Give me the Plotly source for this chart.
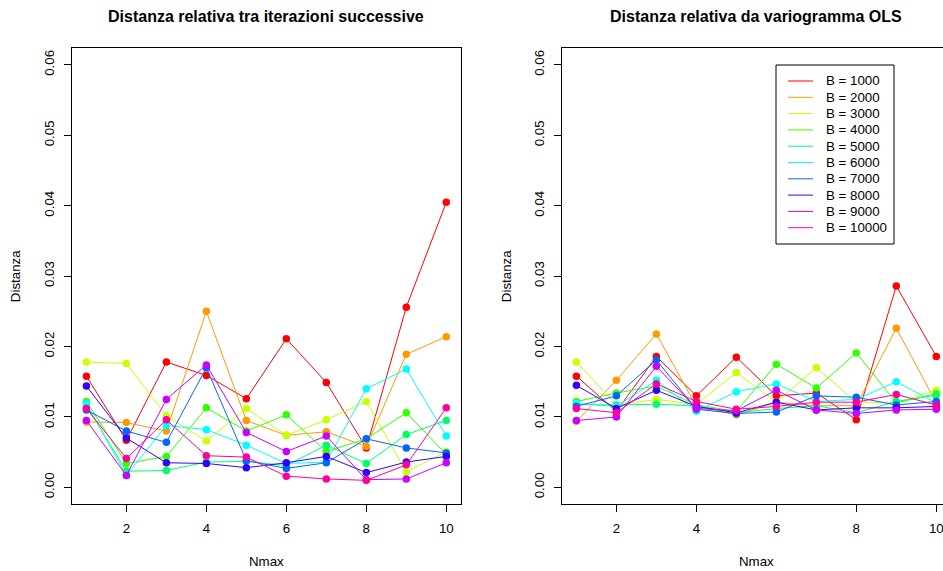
import plotly.graph_objects as go

# Nmax values on the x axis
nmax = [1, 2, 3, 4, 5, 6, 7, 8, 9, 10]

# bootstrap sizes and their colours (R rainbow(10))
b_labels = ["B = 1000", "B = 2000", "B = 3000", "B = 4000", "B = 5000",
            "B = 6000", "B = 7000", "B = 8000", "B = 9000", "B = 10000"]
colors = ["#FF0000", "#FF9900", "#CCFF00", "#33FF00", "#00FF66",
          "#00FFFF", "#0066FF", "#3300FF", "#CC00FF", "#FF0099"]

# relative distance between successive iterations, one list per B
succ_b1000 = [0.0158, 0.0067, 0.0178, 0.0159, 0.0126, 0.0211, 0.0149, 0.0056, 0.0256, 0.0405]
succ_b2000 = [0.0093, 0.0092, 0.0080, 0.0250, 0.0095, 0.0074, 0.0079, 0.0058, 0.0189, 0.0214]
succ_b3000 = [0.0178, 0.0176, 0.0102, 0.0066, 0.0112, 0.0074, 0.0096, 0.0122, 0.0022, 0.0051]
succ_b4000 = [0.0122, 0.0034, 0.0044, 0.0113, 0.0080, 0.0103, 0.0051, 0.0069, 0.0106, 0.0047]
succ_b5000 = [0.0116, 0.0023, 0.0024, 0.0036, 0.0037, 0.0031, 0.0060, 0.0034, 0.0075, 0.0095]
succ_b6000 = [0.0119, 0.0017, 0.0088, 0.0082, 0.0060, 0.0034, 0.0036, 0.0140, 0.0168, 0.0073]
succ_b7000 = [0.0110, 0.0080, 0.0064, 0.0170, 0.0038, 0.0027, 0.0035, 0.0069, 0.0056, 0.0049]
succ_b8000 = [0.0144, 0.0070, 0.0035, 0.0034, 0.0028, 0.0035, 0.0044, 0.0021, 0.0036, 0.0044]
succ_b9000 = [0.0095, 0.0017, 0.0125, 0.0174, 0.0078, 0.0051, 0.0073, 0.0011, 0.0012, 0.0035]
succ_b10000 = [0.0112, 0.0041, 0.0096, 0.0045, 0.0043, 0.0016, 0.0012, 0.0010, 0.0032, 0.0113]

# relative distance from the OLS variogram, one list per B
ols_b1000 = [0.0158, 0.0108, 0.0186, 0.0130, 0.0185, 0.0130, 0.0134, 0.0096, 0.0286, 0.0186]
ols_b2000 = [0.0094, 0.0152, 0.0218, 0.0115, 0.0103, 0.0121, 0.0116, 0.0116, 0.0226, 0.0120]
ols_b3000 = [0.0178, 0.0117, 0.0125, 0.0118, 0.0163, 0.0121, 0.0170, 0.0121, 0.0120, 0.0138]
ols_b4000 = [0.0122, 0.0134, 0.0144, 0.0117, 0.0108, 0.0175, 0.0141, 0.0191, 0.0120, 0.0133]
ols_b5000 = [0.0118, 0.0117, 0.0118, 0.0116, 0.0106, 0.0112, 0.0116, 0.0106, 0.0122, 0.0131]
ols_b6000 = [0.0119, 0.0115, 0.0152, 0.0108, 0.0136, 0.0147, 0.0122, 0.0125, 0.0150, 0.0120]
ols_b7000 = [0.0115, 0.0130, 0.0181, 0.0111, 0.0105, 0.0107, 0.0130, 0.0128, 0.0117, 0.0122]
ols_b8000 = [0.0145, 0.0112, 0.0138, 0.0115, 0.0106, 0.0121, 0.0110, 0.0113, 0.0113, 0.0115]
ols_b9000 = [0.0095, 0.0100, 0.0172, 0.0112, 0.0109, 0.0138, 0.0110, 0.0105, 0.0110, 0.0111]
ols_b10000 = [0.0112, 0.0106, 0.0147, 0.0122, 0.0111, 0.0115, 0.0121, 0.0121, 0.0132, 0.0117]

succ_series = [succ_b1000, succ_b2000, succ_b3000, succ_b4000, succ_b5000,
               succ_b6000, succ_b7000, succ_b8000, succ_b9000, succ_b10000]
ols_series = [ols_b1000, ols_b2000, ols_b3000, ols_b4000, ols_b5000,
              ols_b6000, ols_b7000, ols_b8000, ols_b9000, ols_b10000]

x_ticks = [2, 4, 6, 8, 10]
y_ticks = [0.00, 0.01, 0.02, 0.03, 0.04, 0.05, 0.06]
y_ticktext = ["0.00", "0.01", "0.02", "0.03", "0.04", "0.05", "0.06"]

titles = ["Distanza relativa tra iterazioni successive",
          "Distanza relativa da variogramma OLS"]

W, H = 943, 571
FONT = "Liberation Sans, Arial, Helvetica, sans-serif"
FS = 13.3       # base text size
FS_MAIN = 16    # panel title size


def px(x):
    return x / W


def py(y):
    return (H - y) / H


fig = go.Figure()

for i in range(len(b_labels)):
    fig.add_trace(go.Scatter(
        x=nmax, y=succ_series[i], mode="lines+markers", xaxis="x", yaxis="y",
        line=dict(color=colors[i], width=1), marker=dict(color=colors[i], size=7.5),
        name=b_labels[i], showlegend=False))
for i in range(len(b_labels)):
    fig.add_trace(go.Scatter(
        x=nmax, y=ols_series[i], mode="lines+markers", xaxis="x2", yaxis="y2",
        line=dict(color=colors[i], width=1), marker=dict(color=colors[i], size=7.5),
        name=b_labels[i], showlegend=False))

# plot regions in pixels
left_x0, left_x1 = 72, 460.7
right_x0 = 562
top_y, bot_y = 48, 504.3
ppu = (left_x1 - left_x0) / 9.72  # pixels per Nmax unit

axis_common = dict(
    showgrid=False, zeroline=False, showline=True, linecolor="black", linewidth=1,
    ticks="outside", ticklen=7, tickcolor="black", tickwidth=1,
    tickfont=dict(family=FONT, size=FS, color="black"),
    ticklabeloverflow="allow",
)

xaxis = dict(axis_common, domain=[px(left_x0), px(left_x1)], range=[0.64, 10.36],
             tickvals=x_ticks, mirror=True, anchor="y", ticklabelstandoff=5)
xaxis2 = dict(axis_common, domain=[px(right_x0), 1.0],
              range=[0.64, 0.64 + (W - right_x0) / ppu],
              tickvals=x_ticks, mirror=True, anchor="y2", ticklabelstandoff=5)
yaxis = dict(axis_common, domain=[py(bot_y), py(top_y)], range=[-0.0024, 0.0624],
             tickvals=y_ticks, ticktext=y_ticktext, tickangle=-90, mirror=True,
             anchor="x", ticklabelstandoff=5)
yaxis2 = dict(axis_common, domain=[py(bot_y), py(top_y)], range=[-0.0024, 0.0624],
              tickvals=y_ticks, ticktext=y_ticktext, tickangle=-90, mirror=False,
              anchor="x2", ticklabelstandoff=5)

annotations = []
shapes = []

# panel titles and axis titles
centers = [(left_x0 + left_x1) / 2, right_x0 + (left_x1 - left_x0) / 2]
for c, t in zip(centers, titles):
    annotations.append(dict(text="<b>%s</b>" % t, x=px(c), y=py(16), xref="paper", yref="paper",
                            xanchor="center", yanchor="middle", showarrow=False,
                            font=dict(family=FONT, size=FS_MAIN, color="black")))
    annotations.append(dict(text="Nmax", x=px(c), y=py(561), xref="paper", yref="paper",
                            xanchor="center", yanchor="middle", showarrow=False,
                            font=dict(family=FONT, size=FS, color="black")))
for x0 in [15, 506]:
    annotations.append(dict(text="Distanza", x=px(x0), y=py((top_y + bot_y) / 2),
                            xref="paper", yref="paper", textangle=-90,
                            xanchor="center", yanchor="middle", showarrow=False,
                            font=dict(family=FONT, size=FS, color="black")))

# legend box in the right panel
lg_x0, lg_x1, lg_y0, lg_y1 = 776, 894, 65, 244
shapes.append(dict(type="rect", xref="paper", yref="paper",
                   x0=px(lg_x0), x1=px(lg_x1), y0=py(lg_y1), y1=py(lg_y0),
                   line=dict(color="black", width=1), fillcolor="white", layer="above"))
for i, (lab, col) in enumerate(zip(b_labels, colors)):
    yy = 81 + 16.3 * i
    shapes.append(dict(type="line", xref="paper", yref="paper",
                       x0=px(788), x1=px(813), y0=py(yy), y1=py(yy),
                       line=dict(color=col, width=1), layer="above"))
    annotations.append(dict(text=lab, x=px(824), y=py(yy), xref="paper", yref="paper",
                            xanchor="left", yanchor="middle", showarrow=False,
                            font=dict(family=FONT, size=FS, color="black")))

fig.update_layout(
    width=W, height=H, margin=dict(l=0, r=0, t=0, b=0),
    paper_bgcolor="white", plot_bgcolor="white",
    xaxis=xaxis, xaxis2=xaxis2, yaxis=yaxis, yaxis2=yaxis2,
    annotations=annotations, shapes=shapes, showlegend=False,
)

fig.write_html("out.html")
